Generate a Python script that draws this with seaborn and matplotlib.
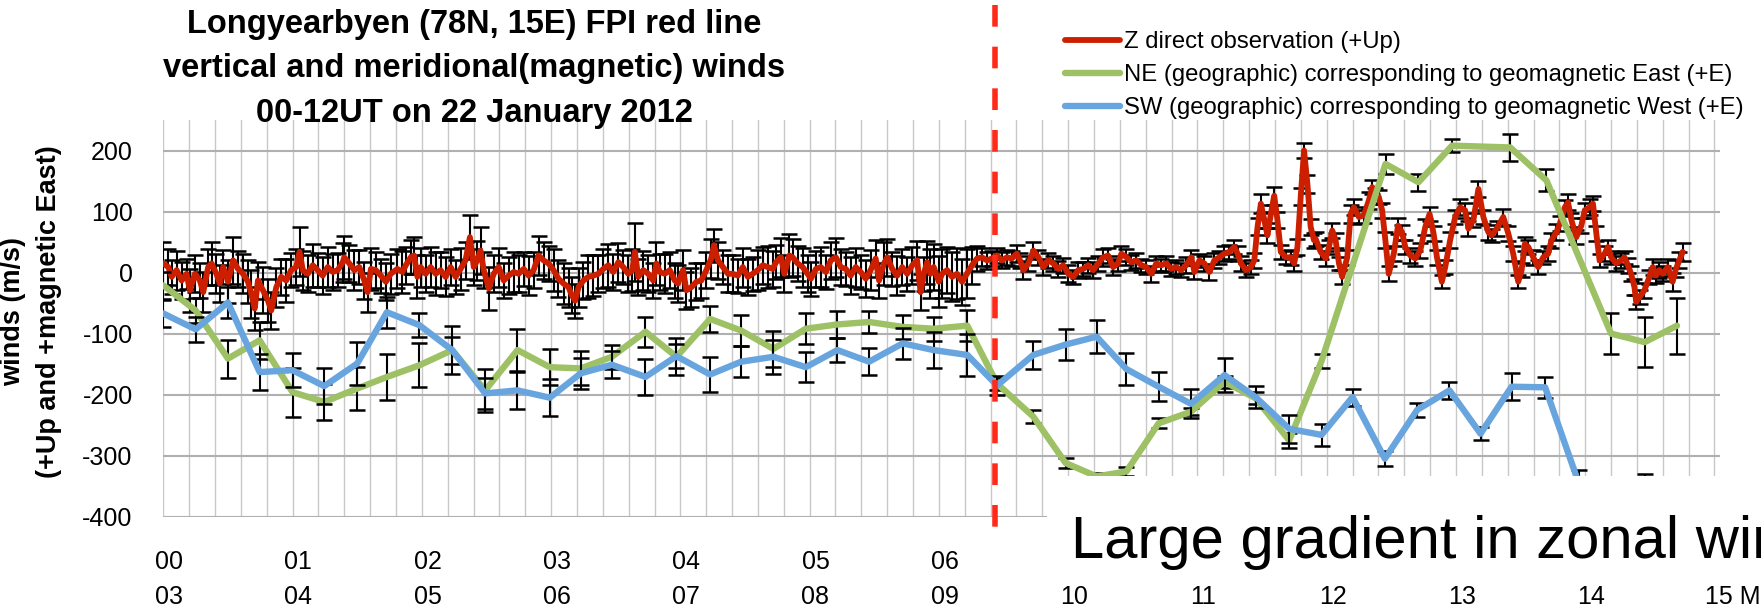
import numpy as np
import pandas as pd
import matplotlib
matplotlib.use("Agg")
import matplotlib.pyplot as plt
from matplotlib.patches import Rectangle
import seaborn as sns

# ---------------- data ----------------
# Z direct observation (+Up): time in UT hours, wind (m/s), error (m/s)
z_hours = [
    0.000, 0.039, 0.065, 0.103, 0.142, 0.180, 0.206, 0.244, 0.283, 0.309, 0.347, 0.373, 0.411, 0.437, 0.463, 0.501, 0.540, 0.578, 0.617, 0.655, 0.681, 0.707, 0.732, 0.771, 0.810, 0.835, 0.874, 0.912, 0.951, 0.989, 1.028, 1.054, 1.079, 1.118, 1.156, 1.195, 1.233, 1.272, 1.311, 1.349, 1.388,
    1.400, 1.439, 1.477, 1.516, 1.555, 1.580, 1.606, 1.644, 1.683, 1.722, 1.760, 1.811, 1.850, 1.876, 1.914, 1.940, 1.966, 1.991, 2.030, 2.068, 2.107, 2.145, 2.184, 2.223, 2.261, 2.300, 2.338, 2.372, 2.402, 2.428, 2.454, 2.479, 2.518, 2.556, 2.595, 2.634, 2.672, 2.711, 2.749, 2.788, 2.826, 2.865,
    2.903, 2.942, 2.980, 3.019, 3.057, 3.096, 3.135, 3.160, 3.186, 3.212, 3.250, 3.289, 3.327, 3.366, 3.404, 3.443, 3.481, 3.520, 3.558, 3.597, 3.628, 3.648, 3.674, 3.713, 3.751, 3.790, 3.815, 3.841, 3.880, 3.918, 3.957, 3.982, 4.021, 4.047, 4.085, 4.124, 4.162, 4.201, 4.239, 4.260, 4.291, 4.329, 4.368,
    4.406, 4.445, 4.483, 4.522, 4.560, 4.599, 4.637, 4.676, 4.715, 4.740, 4.779, 4.804, 4.843, 4.869, 4.907, 4.946, 4.984, 5.010, 5.049, 5.087, 5.126, 5.164, 5.203, 5.241, 5.280, 5.318, 5.357, 5.395, 5.434, 5.472, 5.511, 5.537, 5.575, 5.601, 5.639, 5.678, 5.716, 5.755, 5.794, 5.832, 5.858, 5.883,
    5.909, 5.935, 5.960, 5.999, 6.025, 6.063, 6.102, 6.140, 6.179, 6.217, 6.256, 6.295, 6.333, 6.372, 6.410, 6.449, 6.487, 6.526, 6.564, 6.603, 6.628, 6.654, 6.693, 6.731, 6.770, 6.808, 6.847, 6.885, 6.924, 6.962, 7.001, 7.040, 7.078, 7.117, 7.155, 7.194, 7.232, 7.271, 7.309, 7.348, 7.386,
    7.412, 7.451, 7.489, 7.528, 7.566, 7.605, 7.643, 7.682, 7.720, 7.759, 7.797, 7.836, 7.874, 7.913, 7.952, 7.977, 8.016, 8.054, 8.093, 8.131, 8.170, 8.208, 8.247, 8.285, 8.311, 8.337, 8.375, 8.414, 8.440, 8.465, 8.491, 8.517, 8.542, 8.568, 8.594, 8.619, 8.645, 8.684, 8.722, 8.748, 8.774, 8.799, 8.825, 8.851, 8.876, 8.902,
    8.915, 8.953, 8.992, 9.018, 9.043, 9.069, 9.095, 9.120, 9.159, 9.185, 9.210, 9.249, 9.287, 9.326, 9.352, 9.377, 9.403, 9.429, 9.454, 9.480, 9.519, 9.552, 9.583, 9.608, 9.647, 9.686, 9.724, 9.763, 9.796, 9.827, 9.853, 9.891, 9.917, 9.955, 9.994, 10.032, 10.071, 10.097, 10.135, 10.174, 10.212, 10.251, 10.276, 10.315, 10.366, 10.405,
    10.443, 10.482, 10.508, 10.533, 10.559, 10.598, 10.636, 10.675, 10.713, 10.739, 10.777, 10.803, 10.842, 10.867, 10.893, 10.931, 10.970, 10.996, 11.034, 11.060, 11.086, 11.111, 11.150, 11.176, 11.201, 11.240, 11.278, 11.304, 11.330, 11.355, 11.381, 11.394, 11.420, 11.458, 11.497, 11.522, 11.548, 11.574, 11.599, 11.638, 11.676, 11.702, 11.728, 11.754,
]
z_values = [
    15, 9, -7, 4, -13, -2, -29, -2, -13, -32, 9, 15, -2, -18, 9, -15, 20, 6, -2, -15, -35, -59, -13, -29, -46, -62, -24, -7, -13, 4, 9, 34, 4, -2, 12, 4, -5, 9, 1, 4, 17,
    25, 15, 4, 9, -13, -32, 6, 4, -5, -15, -2, 6, 1, 12, 25, 28, -7, 9, -2, 9, -2, 4, -7, 9, -7, 6, 20, 58, 9, 20, 36, 4, -26, -2, 9, -13, -5, 1, -2, 6, -5, 4,
    28, 20, 15, 4, -10, -18, -24, -37, -46, -24, -13, -7, -5, -2, 6, 12, 1, 17, 9, -2, 4, 34, -7, 4, -2, -13, 15, 1, -2, 4, -13, -18, 4, -29, -24, -15, -13, 4, 23, 45, 20, 9, -2,
    -2, -5, 9, -7, -2, 4, 12, 9, 6, 17, 25, -2, 28, 25, 15, 9, -2, -10, 6, 9, 1, 20, 25, 9, 6, -5, 9, 1, -10, 4, 23, -13, 15, 25, 6, -5, 9, -2, 12, 20, -32, -2,
    17, -2, 9, -15, -2, 4, -7, -2, -15, -2, 12, 23, 25, 20, 23, 28, 20, 25, 23, 31, 20, 4, 15, 36, 25, 9, 20, 15, 6, 12, -2, -7, 4, 6, 12, 4, 15, 25, 28, 9, 15,
    31, 25, 17, 20, 12, 9, -2, 15, 12, 15, 6, 9, 4, 12, 25, 1, 20, 15, 1, 20, 25, 31, 34, 42, 31, 15, 4, 9, 20, 75, 113, 86, 61, 96, 126, 86, 34, 25, 25, 15, 42, 124, 200, 145, 75, 53,
    55, 34, 23, 42, 69, 53, 15, -7, 25, 96, 107, 91, 94, 118, 140, 126, 124, 102, 53, -2, 31, 77, 66, 42, 28, 23, 36, 75, 96, 64, 25, -15, 9, 53, 91, 107, 102, 72, 86, 137, 91, 66, 61, 72, 91, 64,
    31, -15, 4, 47, 42, 25, 9, 25, 31, 53, 66, 80, 107, 115, 86, 58, 77, 102, 107, 113, 64, 20, 31, 42, 25, 15, 20, 25, 12, -2, -24, -48, -40, -29, -7, 9, -5, 4, -2, 9, -15, 6, 20, 34,
]
z_err = [
    35, 30, 28, 32, 30, 25, 35, 30, 28, 33, 30, 35, 32, 30, 28, 35, 38, 30, 32, 35, 40, 35, 30, 38, 35, 30, 32, 30, 35, 28, 30, 40, 32, 30, 35, 28, 30, 33, 30, 28, 32,
    35, 30, 33, 28, 30, 32, 35, 30, 28, 30, 33, 32, 35, 30, 28, 30, 35, 32, 30, 33, 35, 30, 32, 30, 28, 35, 30, 36, 30, 32, 38, 30, 35, 30, 32, 28, 30, 33, 30, 28, 32, 30,
    32, 30, 28, 35, 30, 33, 32, 30, 28, 32, 30, 35, 33, 30, 32, 35, 30, 32, 28, 30, 35, 48, 30, 32, 30, 28, 35, 30, 32, 30, 28, 30, 33, 30, 32, 30, 28, 30, 32, 27, 30, 28, 30,
    30, 28, 32, 30, 28, 33, 30, 35, 30, 28, 32, 30, 35, 30, 28, 32, 30, 28, 30, 33, 28, 30, 32, 30, 28, 30, 32, 28, 30, 33, 30, 28, 35, 30, 28, 32, 30, 28, 30, 32, 30, 28,
    35, 40, 38, 42, 40, 38, 40, 42, 38, 40, 30, 20, 15, 14, 12, 12, 13, 12, 12, 14, 12, 15, 12, 14, 12, 13, 12, 12, 13, 12, 14, 12, 13, 12, 12, 13, 12, 14, 12, 13, 12,
    12, 13, 12, 12, 11, 12, 13, 12, 11, 12, 12, 11, 12, 13, 12, 12, 11, 12, 13, 12, 11, 12, 12, 11, 12, 12, 11, 12, 12, 14, 15, 13, 12, 14, 15, 13, 12, 11, 12, 12, 13, 14, 12, 15, 13, 12,
    12, 11, 12, 12, 13, 12, 11, 12, 12, 14, 13, 12, 13, 14, 12, 13, 12, 12, 13, 12, 12, 13, 12, 11, 12, 12, 12, 13, 12, 12, 12, 11, 12, 13, 12, 13, 12, 12, 12, 13, 12, 12, 11, 12, 13, 12,
    12, 11, 12, 12, 11, 12, 12, 11, 12, 12, 13, 12, 12, 13, 12, 11, 12, 12, 13, 12, 12, 11, 12, 12, 11, 12, 12, 11, 12, 12, 13, 11, 12, 12, 11, 13, 12, 13, 12, 14, 15, 14, 13, 15,
]

# NE (geographic) -> geomagnetic East
ne_hours = [0.0, 0.25, 0.5, 0.745, 1.0, 1.245, 1.5, 1.73, 1.98, 2.235, 2.49, 2.74, 2.99, 3.23, 3.47, 3.73, 3.97, 4.23, 4.47, 4.72,
            4.97, 5.215, 5.46, 5.72, 5.96, 6.22, 6.45, 6.73, 6.98, 7.22, 7.45, 7.70, 7.95, 8.21, 8.45, 8.71, 8.96, 9.455, 9.71, 9.97,
            10.42, 10.7, 11.2, 11.46, 11.71]
ne_values = [-21, -62, -141, -111, -196, -212, -190, -171, -152, -127, -193, -127, -155, -157, -138, -97, -138, -76, -95, -125,
             -92, -85, -81, -89, -92, -87, -182, -236, -312, -334, -326, -247, -228, -179, -206, -275, -145, 178, 148, 208,
             205, 151, -100, -114, -87]
ne_err = [22, 20, 31, 30, 40, 30, 35, 37, 36, 40, 35, 35, 30, 28, 20, 25, 30, 22, 25, 30,
          25, 22, 18, 20, 20, 25, 10, 11, 8, 6, 8, 8, 6, 10, 10, 12, 11, 16, 14, 11,
          22, 18, 33, 41, 46]

# SW (geographic) -> geomagnetic West
sw_hours = [0.0, 0.25, 0.5, 0.745, 1.0, 1.245, 1.5, 1.73, 1.98, 2.235, 2.49, 2.74, 2.99, 3.23, 3.47, 3.73, 3.97, 4.23, 4.47, 4.72,
            4.97, 5.215, 5.46, 5.72, 5.96, 6.22, 6.45, 6.73, 6.98, 7.22, 7.45, 7.70, 7.95, 8.21, 8.45, 8.71, 8.96, 9.20, 9.45, 9.70,
            9.95, 10.19, 10.43, 10.69, 10.95, 11.46]
sw_values = [-67, -93, -49, -163, -160, -186, -149, -65, -86, -127, -198, -193, -205, -165, -151, -171, -137, -167, -146, -138,
             -155, -127, -146, -116, -127, -135, -185, -135, -118, -105, -158, -187, -215, -168, -204, -256, -266, -204, -305, -225,
             -193, -264, -187, -188, -345, -355]
sw_err = [22, 20, 25, 30, 28, 30, 35, 25, 20, 22, 25, 30, 30, 25, 22, 30, 20, 28, 25, 28,
          25, 20, 22, 25, 30, 35, 16, 23, 25, 27, 26, 24, 24, 28, 18, 23, 18, 14, 12, 12,
          14, 11, 22, 17, 21, 25]

series_labels = ["Z direct observation (+Up)",
                 "NE (geographic) corresponding to geomagnetic East (+E)",
                 "SW (geographic) corresponding to geomagnetic West (+E)"]
y_ticks = [-400, -300, -200, -100, 0, 100, 200]
y_tick_labels = ["-400", "-300", "-200", "-100", "0", "100", "200"]
ut_hours = list(range(13))
# first row (UT) is hidden behind the annotation box from 07 onward in the reference
ut_labels = ["00", "01", "02", "03", "04", "05", "06", "", "", "", "", "", ""]
mlt_labels = ["03", "04", "05", "06", "07", "08", "09", "10", "11", "12", "13", "14", ""]
last_mlt_label = "15 MLT"
event_hour = 6.433
title_text = ("Longyearbyen (78N, 15E) FPI red line\n"
              "vertical and meridional(magnetic) winds\n"
              "00-12UT on 22 January 2012")
ylabel_text = "winds (m/s)\n(+Up and +magnetic East)"
note_text = "Large gradient in zonal winds"

# ---------------- style ----------------
sns.set_theme(style="white")
plt.rcParams["font.family"] = ["Liberation Sans", "DejaVu Sans"]
plt.rcParams["axes.unicode_minus"] = False
plt.rcParams["text.color"] = "black"
plt.rcParams["axes.labelcolor"] = "black"
plt.rcParams["xtick.color"] = "black"
plt.rcParams["ytick.color"] = "black"

RED = "#CC1F00"
GREEN = "#9DC164"
BLUE = "#68A5DF"
DASH = "#FF2A1A"

W, H = 1761, 607
fig = plt.figure(figsize=(W / 100, H / 100), dpi=100)
fig.patch.set_facecolor("white")
ax = fig.add_axes([163.3 / W, 1 - 516.7 / H, (1720.3 - 163.3) / W, (516.7 - 120) / H])
ax.set_facecolor("white")

z_df = pd.DataFrame({"hour": z_hours, "wind": z_values, "err": z_err})
ne_df = pd.DataFrame({"hour": ne_hours, "wind": ne_values, "err": ne_err})
sw_df = pd.DataFrame({"hour": sw_hours, "wind": sw_values, "err": sw_err})

handles = []
specs = [(z_df, RED, 4.2, 2), (ne_df, GREEN, 4.6, 4), (sw_df, BLUE, 4.6, 6)]
for df, col, lw, zo in specs:
    ax.errorbar(df["hour"], df["wind"], yerr=df["err"], fmt="none", ecolor="black",
                elinewidth=1.5, capsize=6, capthick=1.8, zorder=zo)
    sns.lineplot(data=df, x="hour", y="wind", ax=ax, color=col, lw=lw,
                 estimator=None, sort=False, legend=False, zorder=zo + 1)
    handles.append(ax.lines[-1])

ax.set_xlim(0, 12)
ax.set_ylim(-400, 250)
ax.set_xlabel("")
ax.set_ylabel("")

# gridlines
ax.set_xticks(np.arange(0, 12.001, 0.2), minor=True)
ax.set_yticks(y_ticks)
ax.set_yticklabels(y_tick_labels)
ax.set_xticks([h + 0.045 for h in ut_hours])
ax.set_xticklabels([f"{u}\n{m}" for u, m in zip(ut_labels, mlt_labels)], linespacing=1.58)
ax.grid(False)
ax.xaxis.grid(True, which="minor", color="#C8C8C8", lw=1.0)
ax.yaxis.grid(True, which="major", color="#B0B0B0", lw=1.5)
for s in ax.spines.values():
    s.set_visible(False)
ax.tick_params(axis="y", length=0, pad=22, labelsize=18, labelcolor="black")
ax.tick_params(axis="x", which="both", length=0, pad=24, labelsize=18, labelcolor="black")

ax.text(11.928, (516.7 - 603.5) / (516.7 - 120), last_mlt_label,
        transform=ax.get_xaxis_transform(), ha="left", va="baseline", fontsize=18,
        color="black")

# event line
ax.plot([event_hour, event_hour], [1.29, -0.034], transform=ax.get_xaxis_transform(),
        color=DASH, lw=4, dashes=(3.9, 3.6), clip_on=False, zorder=9)

# legend
ax.legend(handles, series_labels, loc="upper left", bbox_to_anchor=(1065 / W, 1 - 31 / H),
          bbox_transform=fig.transFigure, frameon=False, handlelength=2.3,
          handletextpad=0.15, labelspacing=0.47, borderpad=0, borderaxespad=0,
          fontsize=17.2)

# title and y label
fig.text(474 / W, 1 - 69 / H, title_text, ha="center", va="center", fontsize=23.5,
         fontweight="bold", linespacing=1.56, color="black")
fig.text(31.5 / W, 1 - 312 / H, ylabel_text, rotation=90, ha="center", va="center",
         multialignment="center", fontsize=19.5, fontweight="bold", linespacing=1.5,
         color="black")

# annotation box
fig.add_artist(Rectangle((1047 / W, 1 - 578 / H), 0.5, (578 - 475.7) / H,
                         transform=fig.transFigure, facecolor="white", edgecolor="none",
                         zorder=10))
fig.text(1071 / W, 1 - 558 / H, note_text, ha="left", va="baseline", fontsize=43,
         color="black", zorder=11)

fig.savefig("out.png", dpi=100, facecolor="white")
